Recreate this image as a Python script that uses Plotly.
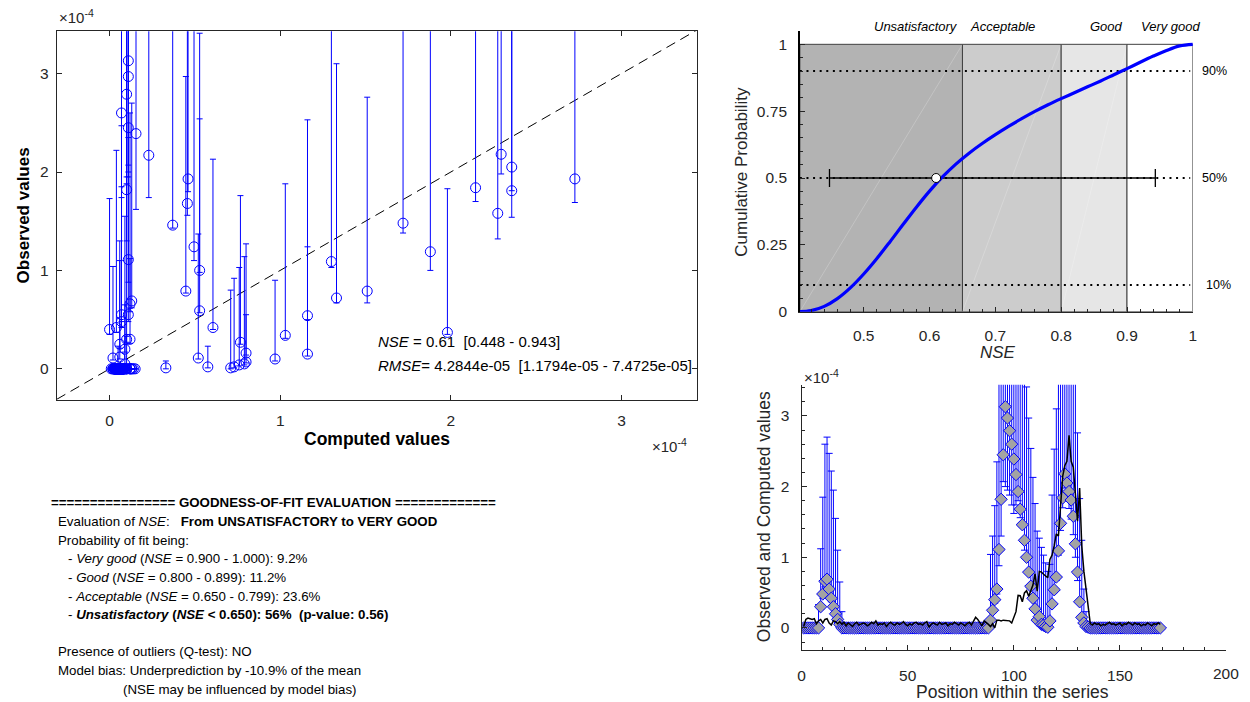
import plotly.graph_objects as go

# ---------------- data (values in units of 1e-4) ----------------
position = list(range(1, 170))

observed = (
    [0.0] * 8
    + [0.30, 0.48, 0.66, 0.69, 0.55, 0.42, 0.30, 0.20, 0.12, 0.05]
    + [0.0] * 70
    + [0.11, 0.25, 0.40, 0.55, 1.11, 1.82, 2.45, 3.13, 2.97, 2.79, 2.60, 2.39, 2.17, 1.93,
       1.68, 1.46, 1.24, 1.00, 0.79, 0.59, 0.42, 0.27, 0.11, 0.16, 0.05, 0.04, 0.02, 0.01]
    + [0.10, 0.34, 0.54, 0.72, 1.09, 1.48, 1.84, 2.18, 2.05, 1.93, 1.81, 1.58, 1.19, 0.79,
       0.37, 0.15, 0.07, 0.02, 0.01, 0.0]
    + [0.0] * 33
)

computed = [
    0.02, 0.12, 0.14, 0.13, 0.12, 0.13, 0.06, 0.10, 0.12, 0.07, 0.12, 0.13, 0.07, 0.04, 0.10, 0.09, 0.06, 0.09, 0.05, 0.08,
    0.03, 0.07, 0.05, 0.02, 0.06, 0.08, 0.04, 0.05, 0.07, 0.06, 0.03, 0.05, 0.08, 0.06, 0.10, 0.04, 0.06, 0.05, 0.07, 0.02,
    0.06, 0.08, 0.05, 0.04, 0.07, 0.05, 0.06, 0.09, 0.05, 0.03, 0.06, 0.04, 0.07, 0.08, 0.05, 0.06, 0.04, 0.07, 0.09, 0.01,
    0.05, 0.07, 0.06, 0.04, 0.08, 0.05, 0.06, 0.07, 0.03, 0.06, 0.05, 0.08, 0.06, 0.04, 0.07, 0.05, 0.03, 0.06, 0.08, 0.04,
    0.09, 0.15, 0.12, 0.08, 0.03, 0.10, 0.08, 0.05,
    0.02, 0.06, 0.00, 0.11, 0.11, 0.10, 0.11, 0.11, 0.11, 0.10, 0.07, 0.155,
    0.23, 0.46, 0.456, 0.37, 0.495, 0.528, 0.447, 0.528, 0.606, 0.767, 0.52, 0.80, 0.79, 0.76, 0.73, 0.71,
    0.97, 1.03, 1.16, 1.33, 1.30, 1.72, 2.145, 2.295, 2.357, 2.727, 2.357, 2.275, 1.88, 1.51, 1.98, 1.16, 0.80, 0.576, 0.33, 0.06,
    0.04, 0.07, 0.05, 0.06, 0.03, 0.05, 0.04, 0.06, 0.08, 0.05, 0.06, 0.04, 0.05, 0.07, 0.03, 0.06, 0.05, 0.08, 0.06, 0.04,
    0.07, 0.05, 0.06, 0.03, 0.05, 0.04, 0.07, 0.05, 0.03, 0.06, 0.05, 0.07, 0.05,
]

obs_upper = (
    [0.0] * 7
    + [0.33, 1.12, 1.85, 2.60, 2.70, 2.47, 2.22, 1.95, 1.55, 1.10, 0.65, 0.23]
    + [0.0] * 69
    + [1.04, 1.30, 1.73, 2.35, 3.90, 4.50, 5.00, 5.50, 5.50, 5.20, 5.00, 4.80, 4.50, 4.30,
       3.90, 3.70, 3.60, 3.41, 2.97, 2.54, 2.13, 1.76, 1.37, 1.27, 1.14, 1.03, 0.92, 0.80]
    + [0.90, 1.88, 2.53, 3.10, 4.00, 4.50, 5.00, 5.20, 5.00, 4.80, 4.60, 4.40, 3.90, 2.76,
       1.83, 1.24, 0.55, 0.23, 0.08, 0.0]
    + [0.0] * 33
)

obs_lower = (
    [0.0] * 8
    + [0.26, 0.42, 0.58, 0.62, 0.48, 0.37, 0.27, 0.17, 0.10, 0.04]
    + [0.0] * 70
    + [0.09, 0.21, 0.35, 0.48, 0.88, 1.30, 2.07, 2.00, 1.95, 1.88, 1.74, 1.62, 1.74, 1.80,
       1.56, 1.43, 1.10, 0.98, 0.77, 0.57, 0.40, 0.25, 0.10, 0.14, 0.04, 0.03, 0.01, 0.0]
    + [0.08, 0.31, 0.50, 0.67, 1.03, 1.38, 1.70, 1.98, 1.81, 1.69, 1.54, 1.32, 1.00, 0.67,
       0.35, 0.13, 0.06, 0.01, 0.0, 0.0]
    + [0.0] * 33
)

nse_grid = [0.403, 0.42, 0.44, 0.46, 0.48, 0.50, 0.52, 0.54, 0.56, 0.58, 0.60, 0.62, 0.64, 0.66,
            0.68, 0.70, 0.72, 0.74, 0.76, 0.78, 0.80, 0.82, 0.84, 0.86, 0.88, 0.90, 0.92, 0.94,
            0.96, 0.98, 1.0]
nse_cdf = [0.0, 0.004, 0.020, 0.049, 0.090, 0.141, 0.199, 0.262, 0.327, 0.391, 0.451, 0.505, 0.552,
           0.593, 0.629, 0.662, 0.693, 0.722, 0.749, 0.774, 0.797, 0.819, 0.841, 0.863, 0.886, 0.909,
           0.933, 0.956, 0.977, 0.994, 1.0]

class_edges = [0.403, 0.65, 0.80, 0.90, 1.0]
class_names = ["Unsatisfactory", "Acceptable", "Good", "Very good"]
class_fill = ["#b3b3b3", "#cccccc", "#e6e6e6", "#ffffff"]
quantile_levels = [0.1, 0.5, 0.9]
quantile_labels = ["10%", "50%", "90%"]
nse_median = 0.61
nse_ci = [0.448, 0.943]

series_ticks = [0, 50, 100, 150, 200]

xy_range = [-0.31, 3.44]
yy_range = [-0.315, 3.43]

FONT = "Liberation Sans"
AX = "#262626"

# page-to-photo calibration (the photographed page is slightly reduced vertically)
SY, OY = 0.987, 0.8
W, H = 1250, 702


def Y(yr):
    return (yr - OY) / SY


def px(xr):
    return xr / W


def py(yr):
    return 1 - Y(yr) / H


# ---------------- figure ----------------
fig = go.Figure()

err_plus = [max(h - o, 0) for h, o in zip(obs_upper, observed)]
err_minus = [max(o - l, 0) for o, l in zip(observed, obs_lower)]

# scatter: computed vs observed
fig.add_trace(go.Scatter(
    x=[xy_range[0], xy_range[1]], y=[xy_range[0], xy_range[1]], mode="lines",
    line=dict(color="black", width=1, dash="10px,6px"), xaxis="x", yaxis="y", hoverinfo="skip"))
fig.add_trace(go.Scatter(
    x=computed, y=observed, mode="markers", xaxis="x", yaxis="y",
    marker=dict(symbol="circle-open", size=10, color="blue", line=dict(width=1, color="blue")),
    error_y=dict(type="data", symmetric=False, array=err_plus, arrayminus=err_minus,
                 color="blue", thickness=1, width=3)))

# CDF panel
for i in range(len(class_edges) - 1):
    fig.add_shape(type="rect", xref="x2", yref="y2", x0=class_edges[i], x1=class_edges[i + 1],
                  y0=0, y1=1, fillcolor=class_fill[i], line=dict(color="#404040", width=1),
                  layer="below")
    fig.add_shape(type="line", xref="x2", yref="y2", x0=class_edges[i], x1=class_edges[i + 1],
                  y0=0, y1=1, line=dict(color="rgba(255,255,255,0.28)", width=0.8), layer="below")

for q in quantile_levels:
    fig.add_trace(go.Scatter(
        x=[class_edges[0], 0.996], y=[q, q], mode="lines", xaxis="x2", yaxis="y2",
        line=dict(color="black", width=2, dash="2px,4.6px"), hoverinfo="skip"))

fig.add_trace(go.Scatter(
    x=nse_ci, y=[0.5, 0.5], mode="lines+markers", xaxis="x2", yaxis="y2",
    line=dict(color="black", width=1.3),
    marker=dict(symbol="line-ns", size=13, line=dict(color="black", width=1.3))))
fig.add_trace(go.Scatter(
    x=nse_grid, y=nse_cdf, mode="lines", xaxis="x2", yaxis="y2",
    line=dict(color="#0000ff", width=3.2, shape="spline", smoothing=1.0)))
fig.add_trace(go.Scatter(
    x=[nse_median], y=[0.5], mode="markers", xaxis="x2", yaxis="y2",
    marker=dict(symbol="circle", size=9, color="white", line=dict(color="black", width=1))))

# series panel
fig.add_trace(go.Scatter(
    x=position, y=observed, mode="markers", xaxis="x3", yaxis="y3",
    marker=dict(symbol="diamond", size=9.5, color="#a3a3a3", line=dict(color="blue", width=1)),
    error_y=dict(type="data", symmetric=False, array=err_plus, arrayminus=err_minus,
                 color="blue", thickness=1, width=3.5)))
fig.add_trace(go.Scatter(
    x=position, y=computed, mode="lines", xaxis="x3", yaxis="y3",
    line=dict(color="black", width=1.5)))

tickfont = dict(family=FONT, size=15.5, color=AX)
common = dict(ticks="inside", ticklen=5, tickcolor=AX, showline=True, linecolor=AX,
              linewidth=1, showgrid=False, zeroline=False, tickfont=tickfont)

fig.update_layout(
    width=W, height=H, margin=dict(l=0, r=0, t=0, b=0), autosize=False,
    paper_bgcolor="white", plot_bgcolor="white", showlegend=False,
    font=dict(family=FONT, color="black"),
    xaxis=dict(domain=[px(53), px(697)], range=xy_range, tickvals=[0, 1, 2, 3],
               anchor="y", mirror="ticks", ticklabelstandoff=7, **common),
    yaxis=dict(domain=[py(400), py(32)], range=yy_range, tickvals=[0, 1, 2, 3],
               anchor="x", mirror="ticks", ticklabelstandoff=4, **common),
    xaxis2=dict(domain=[px(801), px(1196.5)], range=[class_edges[0], 1.0], anchor="y2",
                tickvals=[0.5, 0.6, 0.7, 0.8, 0.9, 1.0],
                ticktext=["0.5", "0.6", "0.7", "0.8", "0.9", "1"], ticklabelstandoff=10,
                minor=dict(ticks="inside", ticklen=3, dtick=0.02, tickcolor=AX, showgrid=False),
                **common),
    yaxis2=dict(domain=[py(312), py(31.7)], range=[0, 1.05], anchor="x2",
                tickvals=[0, 0.25, 0.5, 0.75, 1], ticktext=["0", "0.25", "0.5", "0.75", "1"],
                ticklabelstandoff=8,
                minor=dict(ticks="inside", ticklen=3, dtick=0.05, tickcolor=AX, showgrid=False),
                **{**common, "linecolor": "black", "linewidth": 1.5}),
    xaxis3=dict(domain=[px(802.7), px(1230)], range=[series_ticks[0], series_ticks[-1]],
                anchor="y3", tickvals=series_ticks,
                ticktext=[str(t) for t in series_ticks[:-1]] + [""], ticklabelstandoff=11,
                minor=dict(ticks="inside", ticklen=3, dtick=10, tickcolor=AX, showgrid=False),
                **common),
    yaxis3=dict(domain=[py(650), py(385)], range=[-0.316, 3.44], anchor="x3",
                tickvals=[0, 1, 2, 3], ticklabelstandoff=8,
                minor=dict(ticks="inside", ticklen=3, dtick=0.2, tickcolor=AX, showgrid=False),
                **common),
)

ann = []


def A(text, x, y, size=13.3, xanchor="left", yanchor="middle", xref="paper", yref="paper",
      angle=0, color="black", xshift=0):
    ann.append(dict(text=text, x=x, y=y, xref=xref, yref=yref, xanchor=xanchor, yanchor=yanchor,
                    align=xanchor, showarrow=False, textangle=angle, xshift=xshift,
                    font=dict(family=FONT, size=size, color=color)))


# scatter panel labels
A("<b>Observed values</b>", px(20), py(216), size=17, xanchor="center", angle=-90)
A("<b>Computed values</b>", px(375), py(439), size=17.5, xanchor="center")
A("×10<sup>-4</sup>", px(53), py(17), size=15, color=AX)
A("×10<sup>-4</sup>", px(650), py(446), size=15, color=AX)
A("<i>NSE</i> = 0.61  [0.448 - 0.943]", px(374), py(342), size=15)
A("<i>RMSE</i>= 4.2844e-05  [1.1794e-05 - 7.4725e-05]", px(374), py(366), size=15)

# CDF panel labels
A("Cumulative Probability", px(742), py(172), size=17, xanchor="center", angle=-90, color=AX)
A("<i>NSE</i>", px(1000), py(353), size=17, xanchor="center", color=AX)
A("<i>%s</i>" % class_names[0], class_edges[1], py(27), size=13, xanchor="right", xref="x2", xshift=-2)
A("<i>%s</i>" % class_names[1], class_edges[1], py(27), size=13, xanchor="left", xref="x2", xshift=6)
A("<i>%s</i>" % class_names[2], class_edges[3], py(27), size=13, xanchor="right", xref="x2", xshift=-2)
A("<i>%s</i>" % class_names[3], class_edges[3], py(27), size=13, xanchor="left", xref="x2", xshift=12)
for q, lab in zip(quantile_levels, quantile_labels):
    A(lab, px(1204 if q > 0.2 else 1208), q, size=12.5, yref="y2")

# series panel labels
A("Observed and Computed values", px(765), py(517), size=17.5, xanchor="center", angle=-90, color=AX)
A("Position within the series", px(1015), py(692), size=17.5, xanchor="center", color=AX)
A("×10<sup>-4</sup>", px(803), py(377), size=15, color=AX)
# last tick label of the series axis
A(str(series_ticks[-1]), series_ticks[-1], py(673), size=15.5, xanchor="center", xref="x3", color=AX)

# text report
lines = [
    (45, 502, "<b>================ GOODNESS-OF-FIT EVALUATION =============</b>"),
    (52, 521, "Evaluation of <i>NSE</i>:\u00a0\u00a0\u00a0<b>From UNSATISFACTORY to VERY GOOD</b>"),
    (52, 540, "Probability of fit being:"),
    (62, 558, "- <i>Very good</i> (<i>NSE</i> = 0.900 - 1.000): 9.2%"),
    (62, 577, "- <i>Good</i> (<i>NSE</i> = 0.800 - 0.899): 11.2%"),
    (62, 596, "- <i>Acceptable</i> (<i>NSE</i> = 0.650 - 0.799): 23.6%"),
    (62, 614, "- <b><i>Unsatisfactory</i> (<i>NSE</i> &lt; 0.650): 56%\u00a0\u00a0(p-value: 0.56)</b>"),
    (52, 651, "Presence of outliers (Q-test): NO"),
    (52, 670, "Model bias: Underprediction by -10.9% of the mean"),
    (118, 689, "(NSE may be influenced by model bias)"),
]
for x, y, t in lines:
    A(t, px(x), py(y), size=13.3)

fig.update_layout(annotations=ann)
fig.write_html(
    "out.html",
    config={"responsive": False, "displayModeBar": False},
    post_script=(
        "var s='margin:0;padding:0;overflow:hidden;width:1250px;height:702px;';"
        "document.documentElement.style.cssText=s;document.body.style.cssText=s;"
    ),
)
